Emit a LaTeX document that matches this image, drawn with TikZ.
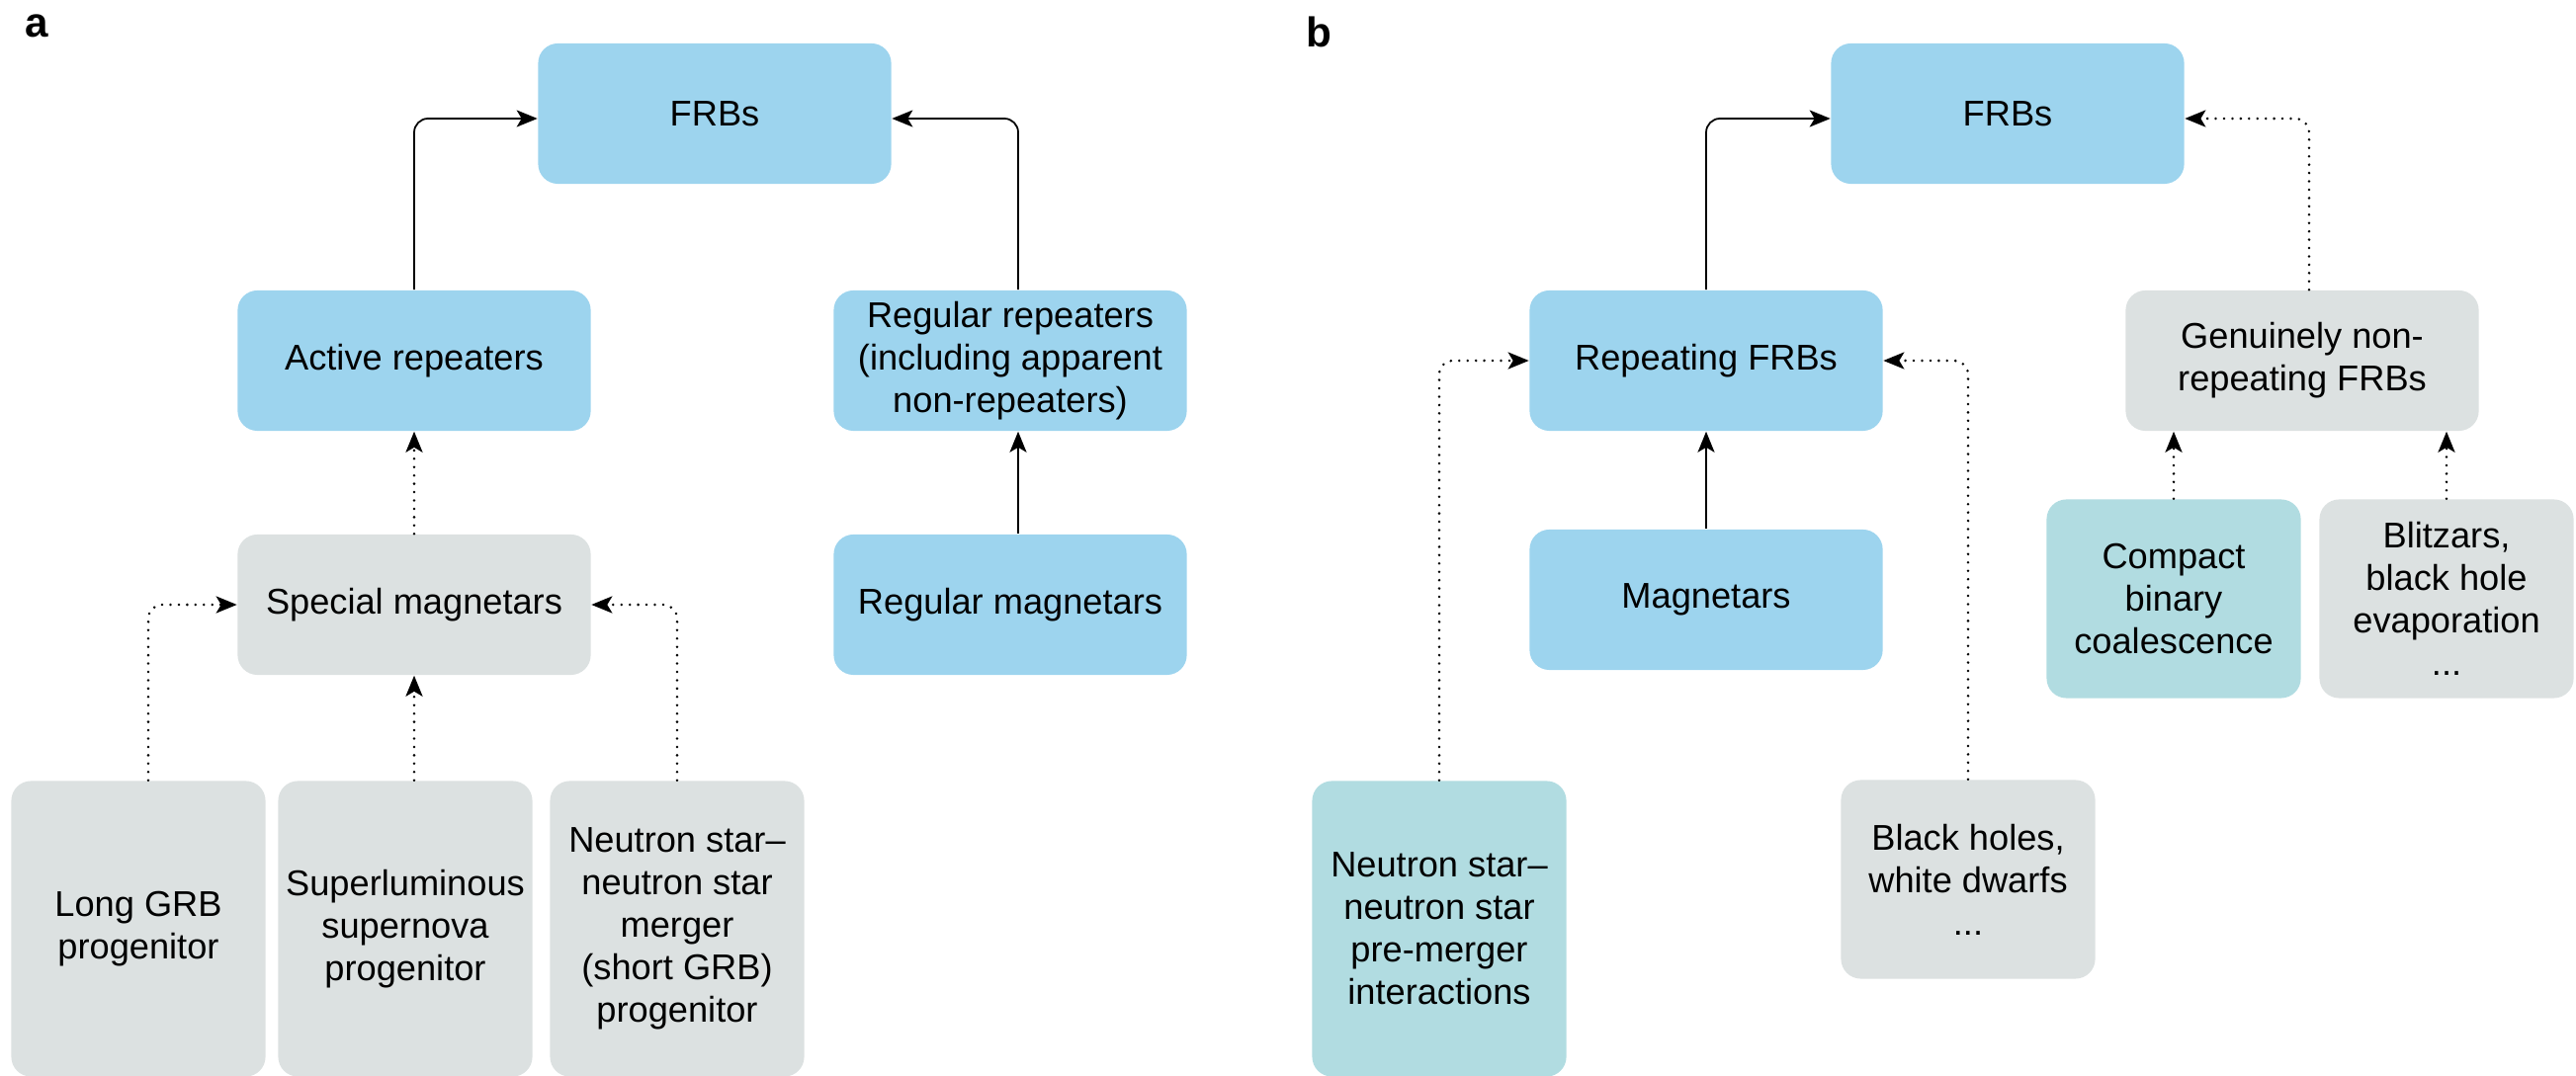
\documentclass[tikz,border=0pt]{standalone}
\usepackage{fontspec}
\setmainfont{Liberation Sans}
\usetikzlibrary{arrows.meta,positioning}

\definecolor{frbblue}{RGB}{157,212,238}
\definecolor{srcgray}{RGB}{220,225,225}
\definecolor{srcteal}{RGB}{177,220,225}

\begin{document}
\begin{tikzpicture}[
  x=0.01cm, y=-0.01cm,
  box/.style={fill=frbblue, rounded corners=0.2cm, inner sep=0pt, align=center,
              minimum width=3.57cm, minimum height=1.42cm,
              font=\fontsize{10.3}{12.2}\selectfont},
  greybox/.style={box, fill=srcgray},
  tealbox/.style={box, fill=srcteal},
  src/.style={minimum width=2.57cm, minimum height=2.01cm},
  tall/.style={src, minimum height=2.99cm},
  link/.style={-{Stealth[length=0.21cm,width=0.17cm,inset=0.05cm]},
               line width=0.5pt, rounded corners=0.14cm},
  maybe/.style={link, line width=0.8pt, line cap=round, dash pattern=on 0pt off 2.4pt},
  panel/.style={font=\fontsize{12}{12}\selectfont\bfseries, anchor=north west, inner sep=0pt}
]
\useasboundingbox (0,0) rectangle (2606,1089);

% panel a
\node[panel] (la) at (25,14) {a};
\node[box]     (frbA)   at (723,115)  {FRBs};
\node[box]     (act)    at (419,365)  {Active repeaters};
\node[box]     (reg)    at (1022,365) {Regular repeaters\\(including apparent\\non-repeaters)};
\node[greybox] (spec)   at (419,612)  {Special magnetars};
\node[box]     (regmag) at (1022,612) {Regular magnetars};
\node[greybox,tall] (lgrb) at (140,940) {Long GRB\\progenitor};
\node[greybox,tall] (slsn) at (410,940) {Superluminous\\supernova\\progenitor};
\node[greybox,tall] (nsns) at (685,940) {Neutron star–\\neutron star\\merger\\(short GRB)\\progenitor};

\draw[link] (act.north) |- ([yshift=-0.05cm]frbA.west);
\draw[link] ([xshift=0.08cm]reg.north) |- ([yshift=-0.05cm]frbA.east);
\draw[maybe] (spec.north) -- (act.south);
\draw[link] ([xshift=0.08cm]regmag.north) -- ([xshift=0.08cm]reg.south);
\draw[maybe] ([xshift=0.1cm]lgrb.north) |- (spec.west);
\draw[maybe] (spec.south |- slsn.north) -- (spec.south);
\draw[maybe] (nsns.north) |- (spec.east);

% panel b
\node[panel] (lb) at (1321,16) {b};
\node[box]     (frbB)  at (2031,115) {FRBs};
\node[box]     (rep)   at (1726,365) {Repeating FRBs};
\node[greybox] (gen)   at (2329,365) {Genuinely non-\\repeating FRBs};
\node[box]     (mag)   at (1726,607) {Magnetars};
\node[tealbox,src]  (cbc)   at (2199,606) {Compact\\binary\\coalescence};
\node[greybox,src]  (blitz) at (2475,606) {Blitzars,\\black hole\\evaporation\\...};
\node[tealbox,tall] (nspre) at (1456,940) {Neutron star–\\neutron star\\pre-merger\\interactions};
\node[greybox,src]  (bhwd)  at (1991,890) {Black holes,\\white dwarfs\\...};

\draw[link] (rep.north) |- ([yshift=-0.05cm]frbB.west);
\draw[maybe] ([xshift=0.07cm]gen.north) |- ([yshift=-0.05cm]frbB.east);
\draw[link] (mag.north) -- (rep.south);
\draw[maybe] (nspre.north) |- (rep.west);
\draw[maybe] (bhwd.north) |- (rep.east);
\draw[maybe] (cbc.north) -- (cbc.north |- gen.south);
\draw[maybe] (blitz.north) -- (blitz.north |- gen.south);
\end{tikzpicture}
\end{document}
